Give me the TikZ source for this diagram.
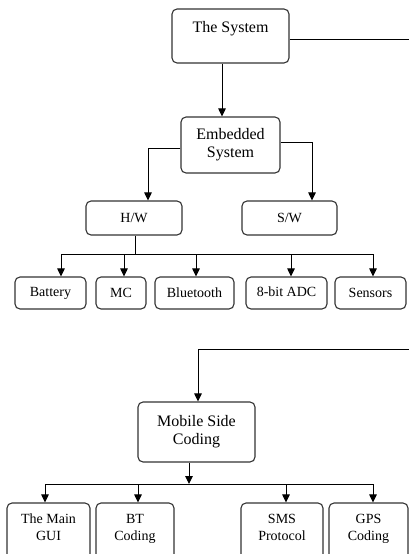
\documentclass[tikz,border=0pt]{standalone}
\usepackage{fontspec}
\setmainfont{Liberation Serif}
\usetikzlibrary{arrows.meta}
\tikzset{
  box/.style={draw=black!80, line width=1.1pt, rounded corners=5pt, align=center, inner sep=0pt},
  bigtxt/.style={font=\fontsize{16}{18}\selectfont},
  smalltxt/.style={font=\fontsize{14}{17}\selectfont},
  conn/.style={draw=black, line width=1pt},
  arr/.style={conn, -{Triangle[length=8pt,width=7.5pt]}}
}
\begin{document}
\begin{tikzpicture}[x=1pt,y=-1pt]
\clip (0,0) rectangle (409,554);
\fill[white] (0,0) rectangle (409,554);
% top level
\node[box,bigtxt,minimum width=117pt,minimum height=54pt] (sys) at (230.5,36) {The System\\\mbox{}};
\node[box,bigtxt,minimum width=99pt,minimum height=56pt] (emb) at (230.5,145) {Embedded\\System};
\node[box,smalltxt,minimum width=96pt,minimum height=34pt] (hw) at (134,218) {H/W};
\node[box,smalltxt,minimum width=95pt,minimum height=34pt] (sw) at (289.5,218) {S/W};
% hardware items
\node[box,smalltxt,minimum width=71pt,minimum height=32pt] (bat) at (50.5,293) {Battery};
\node[box,smalltxt,minimum width=50pt,minimum height=32pt] (mc) at (121,293) {MC};
\node[box,smalltxt,minimum width=79pt,minimum height=32pt] (bt) at (194.5,293) {Bluetooth};
\node[box,smalltxt,minimum width=81pt,minimum height=32pt] (adc) at (286.5,293) {\raisebox{2pt}{8-bit ADC}};
\node[box,smalltxt,minimum width=71pt,minimum height=32pt] (sen) at (370.5,293) {Sensors};
% mobile
\node[box,bigtxt,minimum width=117pt,minimum height=60pt] (mob) at (196.5,432) {Mobile Side\\Coding};
\node[box,smalltxt,minimum width=83pt,minimum height=66pt] (gui) at (48.5,536) {The Main\\GUI\\\mbox{}};
\node[box,smalltxt,minimum width=78pt,minimum height=66pt] (btc) at (135,536) {BT\\Coding\\\mbox{}};
\node[box,smalltxt,minimum width=82pt,minimum height=66pt] (sms) at (282,536) {SMS\\Protocol\\\mbox{}};
\node[box,smalltxt,minimum width=79pt,minimum height=66pt] (gps) at (368.5,536) {GPS\\Coding\\\mbox{}};
% connectors
\draw[arr] ([xshift=-8.5pt]sys.south) -- ([xshift=-8.5pt]emb.north);
\draw[arr] ([yshift=-3pt]emb.west) -| ([xshift=14pt]hw.north);
\draw[arr] ([yshift=3pt]emb.east) -| ([xshift=22.5pt]sw.north);
\coordinate (hb) at (135,254);
\draw[conn] ([xshift=1pt]hw.south) -- (hb);
\draw[arr] (hb) -| ([xshift=10.5pt]bat.north);
\draw[arr] (hb) -| ([xshift=3pt]mc.north);
\draw[arr] (hb) -| ([xshift=1.5pt]bt.north);
\draw[arr] (hb) -| ([xshift=4.5pt]adc.north);
\draw[arr] (hb) -| ([xshift=2.5pt]sen.north);
\coordinate (r1) at (425,39);
\coordinate (r2) at (425,349);
\draw[arr] ([yshift=-3pt]sys.east) -- (r1) -- (r2) -| ([xshift=1.5pt]mob.north);
\coordinate (mb) at (189,484);
\draw[arr] ([xshift=-7.5pt]mob.south) -- (mb);
\draw[arr] (mb) -| ([xshift=-3.5pt]gui.north);
\draw[arr] (mb) -| ([xshift=3pt]btc.north);
\draw[arr] (mb) -| ([xshift=4pt]sms.north);
\draw[arr] (mb) -| ([xshift=4.5pt]gps.north);
\end{tikzpicture}
\end{document}
